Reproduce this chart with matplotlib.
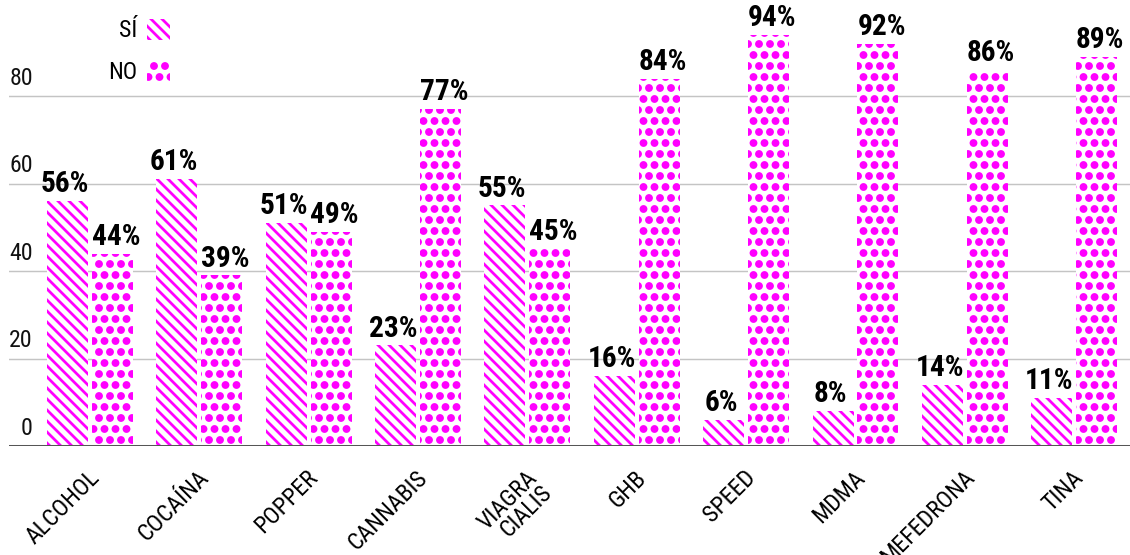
import matplotlib
matplotlib.use("Agg")
import matplotlib.pyplot as plt
import matplotlib.hatch as mhatch
import numpy as np

categories = ["ALCOHOL", "COCAÍNA", "POPPER", "CANNABIS", "VIAGRA\nCIALIS",
              "GHB", "SPEED", "MDMA", "MEFEDRONA", "TINA"]
si = [56, 61, 51, 23, 55, 16, 6, 8, 14, 11]
no = [44, 39, 49, 77, 45, 84, 94, 92, 86, 89]
y_ticks = [0, 20, 40, 60, 80]

MAGENTA = "#ff00ff"
DPI = 132
STRIPES = chr(92) * 4   # dense diagonal stripes
DOTS = ".."

# filled dots for the '.' hatch (the hatch stroke adds to the radius)
mhatch.SmallFilledCircles.size = 0.23
plt.rcParams["hatch.linewidth"] = 1.5
plt.rcParams["hatch.color"] = MAGENTA

sans = ["Roboto Condensed", "Liberation Sans Narrow", "Roboto", "DejaVu Sans"]
plt.rcParams["font.family"] = sans

W, H = 1130, 555
fig = plt.figure(figsize=(W / DPI, H / DPI), dpi=DPI)
ax = fig.add_axes([9 / W, (H - 446) / H, (W - 9) / W, (446 - 8.5) / H])

x = np.arange(len(categories))
off, bw = 0.205, 0.375

b_si = ax.bar(x - off, si, bw, color="white", edgecolor=MAGENTA, linewidth=0,
              hatch=STRIPES, label="SÍ", zorder=2)
b_no = ax.bar(x + off, no, bw, color="white", edgecolor=MAGENTA, linewidth=0,
              hatch=DOTS, label="NO", zorder=2)

# percentage labels on top of each bar
for xs, vals, dx in ((x - off, si, -1.5), (x + off, no, 2.0)):
    for xi, v in zip(xs, vals):
        ax.annotate(f"{v}%", (xi, v), xytext=(dx, 1.5), textcoords="offset points",
                    ha="center", va="bottom", fontsize=16, fontweight="bold",
                    color="black", zorder=4)

ax.set_xlim(-0.74, 9.51)
ax.set_ylim(0, 100)

# grid and baseline
ax.set_yticks(y_ticks)
ax.yaxis.grid(True, color="#c4c4c4", linewidth=0.8, zorder=1)
ax.axhline(0, color="#555555", linewidth=1.1, zorder=3)
ax.tick_params(axis="y", length=0, labelleft=False)
for s in ax.spines.values():
    s.set_visible(False)

# y labels sit above the grid lines on the left
for t in y_ticks:
    ax.annotate(str(t), (0.0214, t), xycoords=("axes fraction", "data"),
                xytext=(0, 3.5), textcoords="offset points",
                ha="right", va="bottom", fontsize=13, color="#111111")

ax.set_xticks(x - 0.02)
ax.set_xticklabels(categories, fontsize=13, rotation=45, ha="right", va="top",
                   rotation_mode="anchor", linespacing=0.9)
ax.tick_params(axis="x", length=0, pad=11)

ax.legend(handles=[b_si, b_no], labels=["SÍ", "NO"], loc="upper right",
          bbox_to_anchor=(170 / W, 1 - 19 / H), bbox_transform=fig.transFigure,
          frameon=False, markerfirst=False, fontsize=13, handlelength=0.95,
          handleheight=0.95, handletextpad=0.42, labelspacing=0.75,
          borderpad=0, borderaxespad=0)

fig.savefig("out.png", dpi=DPI)
